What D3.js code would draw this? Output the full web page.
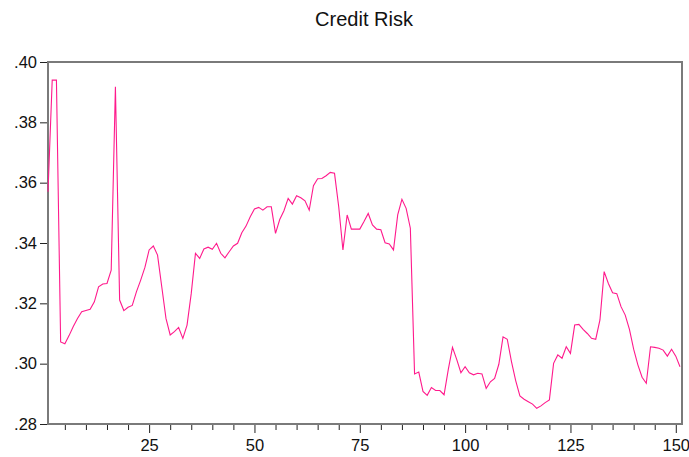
<!DOCTYPE html>
<html>
<head>
<meta charset="utf-8">
<script src="https://cdn.jsdelivr.net/npm/d3@7"></script>
<style>
    body { margin: 0; background: #fff; }
    svg text { font-family: "Liberation Sans", Arial, sans-serif; fill: #111; }
</style>
</head>
<body>
<div id="chart"></div>
<script>
// ── Data ───────────────────────────────────────────────────────────────────────

const title = "Credit Risk";

const creditRisk = [
    .357, .394, .394, .3072, .3066, .3093, .3123, .3150, .3172, .3176,
    .3180, .3205, .3255, .3264, .3266, .3310, .3918, .3211, .3176, .3187,
    .3193, .3239, .3277, .3319, .3377, .3390, .3360, .3255, .3150, .3095,
    .3106, .3120, .3084, .3128, .3233, .3366, .3349, .3380, .3386, .3379,
    .3399, .3366, .3351, .3371, .3390, .3399, .3434, .3456, .3487, .3513,
    .3518, .3509, .3520, .3520, .3432, .3478, .3507, .3548, .3529, .3557,
    .3550, .3540, .3509, .3590, .3613, .3614, .3623, .3634, .3631, .3520,
    .3377, .3493, .3446, .3446, .3446, .3471, .3498, .3460, .3446, .3444,
    .3401, .3397, .3377, .3493, .3545, .3515, .3449, .2966, .2972, .2908,
    .2895, .2921, .2911, .2911, .2897, .2980, .3054, .3014, .2970, .2990,
    .2970, .2963, .2968, .2966, .2918, .2940, .2951, .2998, .3089, .3081,
    .3007, .2944, .2893, .2882, .2874, .2866, .2852, .2860, .2871, .2880,
    .3001, .3029, .3018, .3056, .3034, .3128, .3130, .3114, .3100, .3084,
    .3081, .3145, .3305, .3266, .3235, .3232, .3189, .3161, .3114, .3048,
    .2996, .2955, .2935, .3056, .3054, .3051, .3045, .3025, .3048, .3025,
    .2990
];

const yTicks = [.28, .30, .32, .34, .36, .38, .40];
const xMajorTicks = [25, 50, 75, 100, 125, 150];
const xMinorTicks = [5, 10, 15, 20, 30, 35, 40, 45, 55, 60, 65, 70, 80, 85, 90, 95,
                     105, 110, 115, 120, 130, 135, 140, 145];

// ── Layout ─────────────────────────────────────────────────────────────────────

const W = 689, H = 457;
const margin = { top: 62, right: 7, bottom: 33, left: 48 };
const plotW = W - margin.left - margin.right;
const plotH = H - margin.top - margin.bottom;

const svg = d3.select("#chart").append("svg")
    .attr("width", W)
    .attr("height", H)
    .style("background", "#fff");

svg.append("text")
    .attr("x", margin.left + plotW / 2 - 1)
    .attr("y", 26)
    .attr("text-anchor", "middle")
    .style("font-size", "20px")
    .text(title);

const g = svg.append("g").attr("transform", `translate(${margin.left},${margin.top})`);

const x = d3.scaleLinear().domain([1, creditRisk.length]).range([0, plotW - 2]);
const y = d3.scaleLinear().domain([.28, .40]).range([plotH, 0]);

// ── Axes ───────────────────────────────────────────────────────────────────────

const fmt = d => d3.format(".2f")(d).replace(/^0/, "");

const yAxis = g.append("g")
    .call(d3.axisLeft(y).tickValues(yTicks).tickFormat(fmt).tickSize(8).tickPadding(3));

const xMinor = g.append("g")
    .attr("transform", `translate(0,${plotH})`)
    .call(d3.axisBottom(x).tickValues(xMinorTicks).tickFormat("").tickSize(6));

const xMajor = g.append("g")
    .attr("transform", `translate(0,${plotH})`)
    .call(d3.axisBottom(x).tickValues(xMajorTicks).tickSize(9).tickPadding(6));

[yAxis, xMinor, xMajor].forEach(a => {
    a.select(".domain").remove();
    a.selectAll(".tick line").attr("stroke", "#222").attr("stroke-width", 1);
    a.selectAll(".tick text").style("font-size", "16.5px").attr("fill", "#111");
});

// ── Frame & line ───────────────────────────────────────────────────────────────

g.append("rect")
    .attr("x", 0)
    .attr("y", 0)
    .attr("width", plotW)
    .attr("height", plotH)
    .attr("fill", "none")
    .attr("stroke", "#7a7a7a")
    .attr("stroke-width", 2);

const line = d3.line()
    .x((d, i) => x(i + 1))
    .y(d => y(d));

g.append("path")
    .datum(creditRisk)
    .attr("d", line)
    .attr("fill", "none")
    .attr("stroke", "#ff1a8c")
    .attr("stroke-width", 1.1)
    .attr("stroke-linejoin", "miter");
</script>
</body>
</html>
